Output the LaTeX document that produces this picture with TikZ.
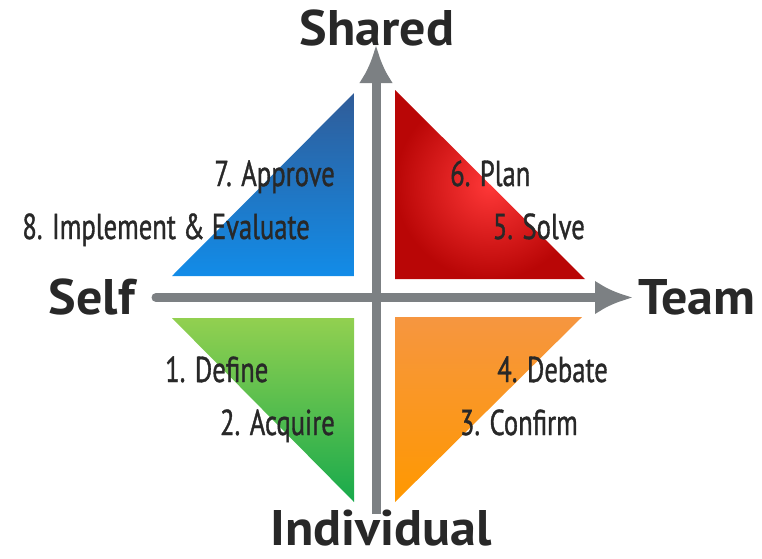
\documentclass[tikz,border=0pt]{standalone}
\usepackage{fontspec}
\usepackage{tikz}
\usetikzlibrary{arrows.meta}
\newfontfamily\handfont[FakeStretch=0.74,FakeBold=1]{PT Sans}
\newfontfamily\axisfont[FakeStretch=1.04]{PT Sans}
\definecolor{axisgray}{RGB}{124,128,131}
\definecolor{darktext}{RGB}{40,40,40}
\definecolor{bluetop}{RGB}{48,92,152}
\definecolor{bluebottom}{RGB}{18,140,232}
\definecolor{redinner}{RGB}{255,56,56}
\definecolor{redouter}{RGB}{185,6,6}
\definecolor{greentop}{RGB}{146,208,80}
\definecolor{greenbottom}{RGB}{24,170,76}
\definecolor{orangetop}{RGB}{246,150,64}
\definecolor{orangebottom}{RGB}{255,152,0}
\tikzset{
  steplabel/.style={text=darktext, inner sep=0pt, font=\handfont\fontsize{36}{40}\selectfont},
  axislabel/.style={text=darktext, inner sep=0pt, font=\axisfont\bfseries\fontsize{50}{54}\selectfont},
  axisarrow/.style={axisgray, line width=9pt, -{Latex[length=38pt,width=34pt]}}
}

\begin{document}
\begin{tikzpicture}[x=1pt,y=-1pt]
  \useasboundingbox (0,0) rectangle (762,558);

  \shade[top color=bluetop, bottom color=bluebottom] (354,93) -- (354,276) -- (172,276) -- cycle;
  \shade[inner color=redinner, outer color=redouter] (395,90) -- (585,279) -- (395,279) -- cycle;
  \shade[top color=greentop, bottom color=greenbottom] (172,318) -- (354,318) -- (354,502) -- cycle;
  \shade[top color=orangetop, bottom color=orangebottom] (395,317) -- (582,317) -- (395,502) -- cycle;

  \coordinate (axisleft) at (156,297.5);
  \coordinate (axisright) at (633,297.5);
  \coordinate (axisbottom) at (376,514);
  \coordinate (axistop) at (376,45);
  \draw[axisarrow, line cap=round] (axisleft) -- (axisright);
  \draw[axisarrow] (axisbottom) -- (axistop);

  \node[axislabel, anchor=base] (shared) at (377,45) {Shared};
  \node[axislabel, anchor=base] (individual) at (381,545) {Individual};
  \node[axislabel, anchor=base east] (self) at (135,314) {Self};
  \node[axislabel, anchor=base west] (team) at (638,314) {Team};

  \node[steplabel, anchor=base east] (approve) at (335,186) {7. Approve};
  \node[steplabel, anchor=base east] (implement) at (310,239) {8. Implement \& Evaluate};
  \node[steplabel, anchor=base west] (plan) at (450,186) {6. Plan};
  \node[steplabel, anchor=base east] (solve) at (585,239) {5. Solve};
  \node[steplabel, anchor=base west] (define) at (165,382) {1. Define};
  \node[steplabel, anchor=base east] (acquire) at (335,435) {2. Acquire};
  \node[steplabel, anchor=base east] (debate) at (608,382) {4. Debate};
  \node[steplabel, anchor=base east] (confirm) at (578,435) {3. Confirm};
\end{tikzpicture}
\end{document}
